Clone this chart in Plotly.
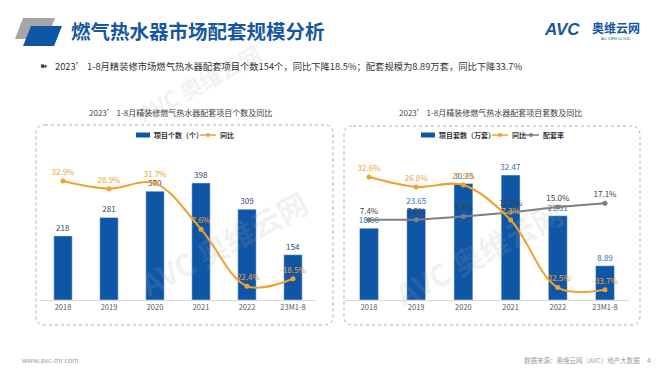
import plotly.graph_objects as go

# ---------------- data ----------------
categories = ["2018", "2019", "2020", "2021", "2022", "23M1-8"]
left_counts = [218, 281, 370, 398, 309, 154]
left_yoy = [32.9, 28.9, 31.7, 7.6, -22.4, -18.5]
right_sets = [18.66, 23.65, 30.25, 32.47, 21.91, 8.89]
right_yoy = [32.6, 26.8, 27.9, 7.3, -32.5, -33.7]
right_rate = [7.4, 7.5, 9.3, 11.7, 15.0, 17.1]

# ---------------- style ----------------
W, H = 660, 372
BLUE = "#0f56a6"
ORANGE = "#f2a12e"
GRAY = "#7f7f7f"
FONT = "Noto Sans CJK SC"


def px(x):
    return x / W


def py(y):
    return 1 - y / H


fig = go.Figure()

# left chart
fig.add_bar(x=categories, y=left_counts, xaxis="x", yaxis="y", width=0.4,
            marker_color=BLUE, text=[str(v) for v in left_counts],
            textposition="outside", constraintext="none", cliponaxis=False,
            textfont=dict(size=8, color="#34486e", family=FONT), showlegend=False)
fig.add_scatter(x=categories, y=left_yoy, xaxis="x", yaxis="y2",
                mode="lines+markers+text",
                line=dict(color=ORANGE, width=2, shape="spline", smoothing=1.0),
                marker=dict(size=5, color=ORANGE),
                text=[f"{v:.1f}%" for v in left_yoy], textposition="top center",
                textfont=dict(size=8, color=ORANGE, family=FONT),
                cliponaxis=False, showlegend=False)

# right chart
fig.add_bar(x=categories, y=right_sets, xaxis="x2", yaxis="y3", width=0.4,
            marker_color=BLUE, text=[f"{v:.2f}" for v in right_sets],
            textposition="outside", constraintext="none", cliponaxis=False,
            textfont=dict(size=8, color="#2e6fb6", family=FONT), showlegend=False)
fig.add_scatter(x=categories, y=right_rate, xaxis="x2", yaxis="y4",
                mode="lines+markers+text",
                line=dict(color=GRAY, width=2),
                marker=dict(size=5, color=GRAY),
                text=[f"{v:.1f}%" for v in right_rate], textposition="top center",
                textfont=dict(size=8, color="#404040", family=FONT),
                cliponaxis=False, showlegend=False)
fig.add_scatter(x=categories, y=right_yoy, xaxis="x2", yaxis="y4",
                mode="lines+markers+text",
                line=dict(color=ORANGE, width=2, shape="spline", smoothing=1.0),
                marker=dict(size=5, color=ORANGE),
                text=[f"{v:.1f}%" for v in right_yoy], textposition="top center",
                textfont=dict(size=8, color=ORANGE, family=FONT),
                cliponaxis=False, showlegend=False)

ydom = [py(292), py(140)]
xcommon = dict(showline=True, linecolor="#d9d9d9", linewidth=1, ticks="",
               showgrid=False, zeroline=False,
               tickfont=dict(size=7.5, color="#595959", family=FONT))
ycommon = dict(visible=False, showgrid=False, zeroline=False)

fig.update_layout(
    width=W, height=H, margin=dict(l=0, r=0, t=0, b=0),
    paper_bgcolor="white", plot_bgcolor="rgba(0,0,0,0)",
    font=dict(family=FONT),
    bargap=0.6,
    xaxis=dict(domain=[px(32), px(308)], anchor="y", **xcommon),
    yaxis=dict(domain=ydom, range=[0, 517], anchor="x", **ycommon),
    yaxis2=dict(overlaying="y", range=[-29.7, 50.3], anchor="x", **ycommon),
    xaxis2=dict(domain=[px(337.4), px(620.6)], anchor="y3", **xcommon),
    yaxis3=dict(domain=ydom, range=[0, 39.5], anchor="x2", **ycommon),
    yaxis4=dict(overlaying="y3", range=[-39.8, 49.7], anchor="x2", **ycommon),
)

shapes = []
annotations = []


def rounded_box(x0, y0, x1, y1, r):
    pts = (f"M {px(x0 + r)},{py(y0)} L {px(x1 - r)},{py(y0)} "
           f"Q {px(x1)},{py(y0)} {px(x1)},{py(y0 + r)} "
           f"L {px(x1)},{py(y1 - r)} Q {px(x1)},{py(y1)} {px(x1 - r)},{py(y1)} "
           f"L {px(x0 + r)},{py(y1)} Q {px(x0)},{py(y1)} {px(x0)},{py(y1 - r)} "
           f"L {px(x0)},{py(y0 + r)} Q {px(x0)},{py(y0)} {px(x0 + r)},{py(y0)} Z")
    return dict(type="path", path=pts, xref="paper", yref="paper",
                line=dict(color="#9db2c9", width=1, dash="dot"), layer="below")


shapes.append(rounded_box(28, 117, 325, 317, 9))
shapes.append(rounded_box(336, 118, 632, 317, 9))

# header logo parallelograms
def poly(points, color):
    d = "M " + " L ".join(f"{px(x)},{py(y)}" for x, y in points) + " Z"
    return dict(type="path", path=d, xref="paper", yref="paper",
                fillcolor=color, line=dict(width=0))


shapes.append(poly([(15, 10), (47, 10), (39, 31), (7, 31)], "#a6a6a6"))
shapes.append(poly([(23, 18), (54, 18), (46, 38), (15, 38)], "#0f56a6"))


def text(x, y, s, size, color, bold=False, xanchor="left", family=FONT, **kw):
    annotations.append(dict(x=px(x), y=py(y), xref="paper", yref="paper",
                            text=f"<b>{s}</b>" if bold else s, showarrow=False,
                            xanchor=xanchor, yanchor="middle",
                            font=dict(size=size, color=color, family=family), **kw))


# watermarks
for (wx, wy, sz) in [(190, 75, 22), (215, 235, 30), (470, 245, 30)]:
    text(wx, wy, "AVC 奥维云网", sz, "rgba(170,170,170,0.16)", bold=True,
         xanchor="center", textangle=-28)

# title
text(61, 23, "燃气热水器市场配套规模分析", 19.5, "#1557a0", bold=True)
# AVC logo
text(534, 22, "<i>AVC</i>", 17, "#1557a0", bold=True, family="Arial")
text(582, 20, "奥维云网", 12, "#1557a0", bold=True)
text(608, 31, "ALL VIEW CLOUD", 3.5, "#1557a0", xanchor="center", family="Arial")

# subtitle
text(30, 58, "➽", 9, "#333333")
text(45, 58, "2023’ 1-8月精装修市场燃气热水器配套项目个数154个，同比下降18.5%；配套规模为8.89万套，同比下降33.7%",
     9.3, "#333333")

# chart titles
text(172, 105, "2023’ 1-8月精装修燃气热水器配套项目个数及同比", 8, "#404040", xanchor="center")
text(482, 105, "2023’ 1-8月精装修燃气热水器配套项目套数及同比", 8, "#404040", xanchor="center")

# left legend
shapes.append(dict(type="rect", xref="paper", yref="paper", x0=px(128), x1=px(142),
                   y0=py(129.5), y1=py(124.5), fillcolor=BLUE, line=dict(width=0)))
text(144, 127, "项目个数（个）", 7, "#333333", bold=True)
shapes.append(dict(type="line", xref="paper", yref="paper", x0=px(192), x1=px(208),
                   y0=py(127), y1=py(127), line=dict(color=ORANGE, width=1.5)))
shapes.append(dict(type="circle", xref="paper", yref="paper", x0=px(198), x1=px(202),
                   y0=py(129), y1=py(125), fillcolor=ORANGE, line=dict(width=0)))
text(210, 127, "同比", 7, "#333333", bold=True)

# right legend
shapes.append(dict(type="rect", xref="paper", yref="paper", x0=px(413), x1=px(427),
                   y0=py(129.5), y1=py(124.5), fillcolor=BLUE, line=dict(width=0)))
text(429, 127, "项目套数（万套）", 7, "#333333", bold=True)
shapes.append(dict(type="line", xref="paper", yref="paper", x0=px(484), x1=px(500),
                   y0=py(127), y1=py(127), line=dict(color=ORANGE, width=1.5)))
shapes.append(dict(type="circle", xref="paper", yref="paper", x0=px(490), x1=px(494),
                   y0=py(129), y1=py(125), fillcolor=ORANGE, line=dict(width=0)))
text(502, 127, "同比", 7, "#333333", bold=True)
shapes.append(dict(type="line", xref="paper", yref="paper", x0=px(515), x1=px(531),
                   y0=py(127), y1=py(127), line=dict(color=GRAY, width=1.5)))
shapes.append(dict(type="circle", xref="paper", yref="paper", x0=px(521), x1=px(525),
                   y0=py(129), y1=py(125), fillcolor=GRAY, line=dict(width=0)))
text(533, 127, "配套率", 7, "#333333", bold=True)

# footer
text(12, 352, "www.avc-mr.com", 7, "#a0a0a0")
text(514, 352, "数据来源：奥维云网（AVC）地产大数据", 6.5, "#a0a0a0")
text(641, 352, "4", 7, "#a0a0a0", xanchor="center")

fig.update_layout(shapes=shapes, annotations=annotations)
fig.write_html("out.html")
